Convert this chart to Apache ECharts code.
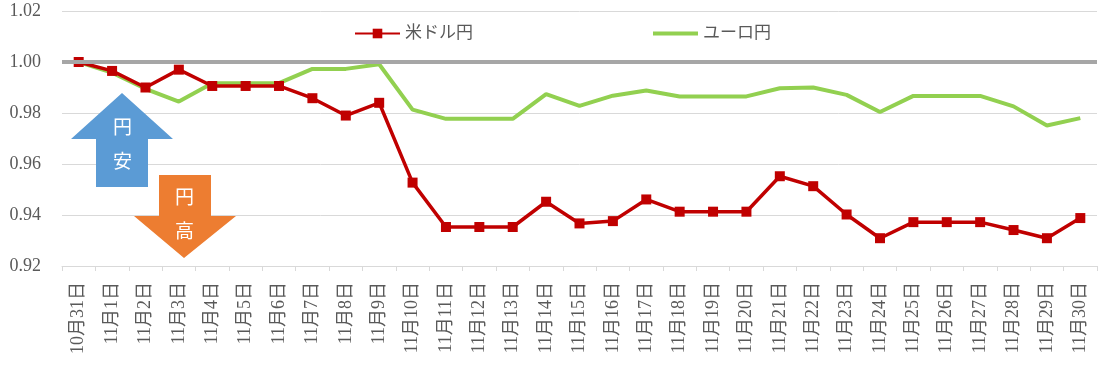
<!DOCTYPE html>
<html><head><meta charset="utf-8">
<script src="https://cdn.jsdelivr.net/npm/echarts@6/dist/echarts.min.js"></script>
<style>html,body{margin:0;padding:0;background:#fff}#c{width:1104px;height:375px}</style>
</head><body><div id="c"></div>
<script>
const categories = ['10月31日','11月1日','11月2日','11月3日','11月4日','11月5日','11月6日','11月7日','11月8日','11月9日','11月10日','11月11日','11月12日','11月13日','11月14日','11月15日','11月16日','11月17日','11月18日','11月19日','11月20日','11月21日','11月22日','11月23日','11月24日','11月25日','11月26日','11月27日','11月28日','11月29日','11月30日'];
const usdJpy = [1.000,0.9965,0.990,0.997,0.9906,0.9906,0.9906,0.9858,0.979,0.984,0.9527,0.9353,0.9353,0.9353,0.9452,0.9367,0.9376,0.9461,0.9413,0.9413,0.9413,0.9552,0.9513,0.9402,0.9309,0.9372,0.9372,0.9372,0.9341,0.9309,0.9388];
const eurJpy = [1.000,0.9958,0.9895,0.9845,0.9917,0.9917,0.9917,0.9973,0.9973,0.9991,0.9813,0.9777,0.9777,0.9777,0.9874,0.9828,0.9868,0.9888,0.9865,0.9865,0.9865,0.9897,0.990,0.9871,0.9804,0.9867,0.9867,0.9867,0.9826,0.9751,0.978];
const yTicks = {min:0.92, max:1.02, interval:0.02};
const baseline = 1.00;

const FONT = 'Liberation Serif, Noto Sans CJK JP, serif';
const TXT = '#595959';
const chart = echarts.init(document.getElementById('c'));
chart.setOption({
  animation:false,
  grid:{left:62,right:7,top:11,bottom:109},
  legend:{
    left:349, top:20, itemWidth:45, itemHeight:12, itemGap:180,
    textStyle:{fontFamily:FONT,fontSize:17,color:TXT},
    data:[{name:'米ドル円'},{name:'ユーロ円',icon:'path://M0,0L45,0L45,4L0,4Z',itemStyle:{color:'#92D050'}}]
  },
  xAxis:{
    type:'category', data:categories, boundaryGap:true,
    axisLine:{lineStyle:{color:'#D9D9D9'}},
    axisTick:{show:true,length:5,lineStyle:{color:'#D9D9D9'}},
    axisLabel:{rotate:90,interval:0,margin:16,fontFamily:FONT,fontSize:18,color:TXT}
  },
  yAxis:{
    type:'value', min:yTicks.min, max:yTicks.max, interval:yTicks.interval,
    axisLine:{show:false}, axisTick:{show:false},
    axisLabel:{formatter:v=>v.toFixed(2),fontFamily:FONT,fontSize:18,color:TXT,margin:21},
    splitLine:{lineStyle:{color:'#D9D9D9',width:1}}
  },
  series:[
    {name:'米ドル円',type:'line',data:usdJpy,z:4,
     symbol:'rect',symbolSize:10,
     lineStyle:{color:'#C00000',width:3.5},itemStyle:{color:'#C00000'},
     markLine:{silent:true,symbol:'none',label:{show:false},
       lineStyle:{color:'#A6A6A6',width:4,type:'solid'},
       data:[{yAxis:baseline}]}},
    {name:'ユーロ円',type:'line',data:eurJpy,z:3,
     symbol:'none',
     lineStyle:{color:'#92D050',width:4},itemStyle:{color:'#92D050'}}
  ],
  graphic:[
    {type:'polygon',shape:{points:[[122,93],[173,139],[148,139],[148,187],[96,187],[96,139],[71,139]]},style:{fill:'#5B9BD5'},z:1},
    {type:'text',left:113,top:110,style:{text:'円\n安',fill:'#fff',font:'19px "Noto Sans CJK JP"',lineHeight:34,align:'center'},z:2},
    {type:'polygon',shape:{points:[[159,175],[211,175],[211,216],[236,216],[184,258],[134,216],[159,216]]},style:{fill:'#ED7D31'},z:1},
    {type:'text',left:175,top:180,style:{text:'円\n高',fill:'#fff',font:'19px "Noto Sans CJK JP"',lineHeight:34,align:'center'},z:2}
  ]
});
</script></body></html>
